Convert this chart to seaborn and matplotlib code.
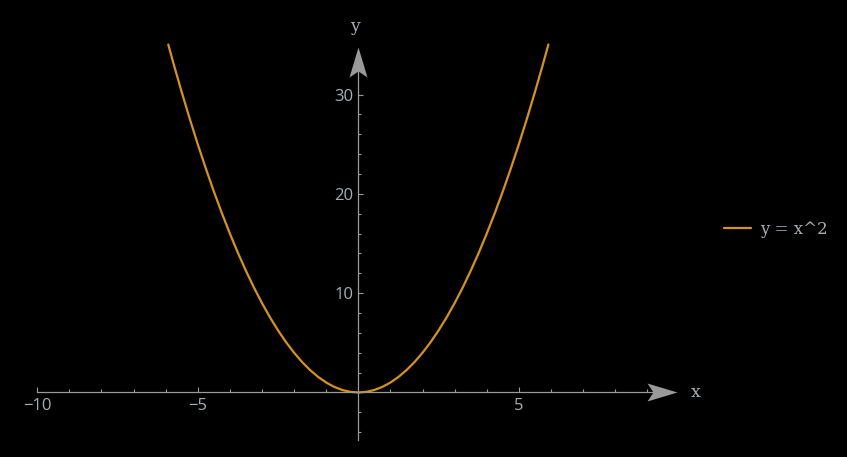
import numpy as np
import pandas as pd
import seaborn as sns
import matplotlib
matplotlib.use("Agg")
import matplotlib.pyplot as plt
from matplotlib.path import Path

# ---- data ----
x_vals = [-5.92, -5.75, -5.5, -5.25, -5.0, -4.75, -4.5, -4.25, -4.0, -3.75, -3.5, -3.25,
          -3.0, -2.75, -2.5, -2.25, -2.0, -1.75, -1.5, -1.25, -1.0, -0.75, -0.5, -0.25,
          0.0, 0.25, 0.5, 0.75, 1.0, 1.25, 1.5, 1.75, 2.0, 2.25, 2.5, 2.75, 3.0, 3.25,
          3.5, 3.75, 4.0, 4.25, 4.5, 4.75, 5.0, 5.25, 5.5, 5.75, 5.92]
y_vals = [35.05, 33.0625, 30.25, 27.5625, 25.0, 22.5625, 20.25, 18.0625, 16.0, 14.0625,
          12.25, 10.5625, 9.0, 7.5625, 6.25, 5.0625, 4.0, 3.0625, 2.25, 1.5625, 1.0,
          0.5625, 0.25, 0.0625, 0.0, 0.0625, 0.25, 0.5625, 1.0, 1.5625, 2.25, 3.0625,
          4.0, 5.0625, 6.25, 7.5625, 9.0, 10.5625, 12.25, 14.0625, 16.0, 18.0625, 20.25,
          22.5625, 25.0, 27.5625, 30.25, 33.0625, 35.05]
series_label = "y = x^2"
x_major = [-10, -5, 5]
x_minor = [-9, -8, -7, -6, -4, -3, -2, -1, 1, 2, 3, 4, 6, 7, 8, 9]
x_major_labels = ["\u221210", "\u22125", "5"]
y_major = [10, 20, 30]
y_minor = [-4, -2, 2, 4, 6, 8, 12, 14, 16, 18, 22, 24, 26, 28]
y_major_labels = ["10", "20", "30"]

df = pd.DataFrame({"x": x_vals, "y": y_vals, "series": series_label})

sns.set_theme(style="dark")
BG = "#000000"
AX = "#9a9a9a"
TXT = "#a9aeb3"
CURVE = "#d8940f"

fig = plt.figure(figsize=(8.47, 4.57), dpi=100, facecolor=BG)
ax = fig.add_axes([0, 0, 1, 1])
ax.set_facecolor(BG)

sns.lineplot(data=df, x="x", y="y", hue="series", palette=[CURVE], sort=False,
             linewidth=1.6, ax=ax, legend=True)

ax.set_xlim(-11.16, 15.22)
ax.set_ylim(-6.50, 39.53)

# axes through origin
for s in ["top", "right"]:
    ax.spines[s].set_visible(False)
ax.spines["bottom"].set_position(("data", 0))
ax.spines["left"].set_position(("data", 0))
ax.spines["bottom"].set_bounds(-10, 9.5)
ax.spines["left"].set_bounds(-4.8, 33.0)
for s in ["bottom", "left"]:
    ax.spines[s].set_color(AX)
    ax.spines[s].set_linewidth(0.9)
    ax.spines[s].set_visible(True)

ax.set_xticks(x_major)
ax.set_xticklabels(x_major_labels)
ax.set_xticks(x_minor, minor=True)
ax.set_yticks(y_major)
ax.set_yticklabels(y_major_labels)
ax.set_yticks(y_minor, minor=True)
num_font = "Open Sans"
ax.tick_params(axis="x", which="major", direction="in", length=3.8, width=0.8,
               color=AX, labelcolor=TXT, labelsize=12, pad=4.0, bottom=True)
ax.tick_params(axis="x", which="minor", direction="in", length=2.2, width=0.8,
               color=AX, bottom=True)
ax.tick_params(axis="y", which="major", direction="in", length=3.8, width=0.8,
               color=AX, labelcolor=TXT, labelsize=12, pad=3.5, left=True)
ax.tick_params(axis="y", which="minor", direction="in", length=2.2, width=0.8,
               color=AX, left=True)
for lab in ax.get_xticklabels() + ax.get_yticklabels():
    lab.set_fontfamily(num_font)
ax.grid(False)
ax.set_xlabel("")
ax.set_ylabel("")

# arrowheads (concave back)
right_arrow = Path([(0, 0), (-2, 0.6), (-1.6, 0), (-2, -0.6), (0, 0)],
                   [Path.MOVETO, Path.LINETO, Path.LINETO, Path.LINETO, Path.CLOSEPOLY])
up_arrow = Path([(0, 0), (-0.6, -2), (0, -1.6), (0.6, -2), (0, 0)],
                [Path.MOVETO, Path.LINETO, Path.LINETO, Path.LINETO, Path.CLOSEPOLY])
ax.plot([9.93], [0], marker=right_arrow, markersize=43.2, color=AX,
        markeredgewidth=0, linestyle="none", clip_on=False)
ax.plot([0], [34.8], marker=up_arrow, markersize=43.2, color=AX,
        markeredgewidth=0, linestyle="none", clip_on=False)

# axis labels
ax.text(10.35, 0, "x", color=TXT, fontsize=12.5, family="DejaVu Serif",
        ha="left", va="center")
ax.text(-0.1, 36.9, "y", color=TXT, fontsize=12.5, family="DejaVu Serif",
        ha="center", va="center")

leg = ax.legend(loc="center left", bbox_to_anchor=(724 / 847, 1 - 229 / 457),
                bbox_transform=fig.transFigure, frameon=False, borderpad=0,
                borderaxespad=0, handlelength=1.6, handletextpad=0.55,
                prop={"family": "DejaVu Serif", "size": 12})
for t in leg.get_texts():
    t.set_color(TXT)

fig.savefig("out.png", dpi=100, facecolor=BG)
